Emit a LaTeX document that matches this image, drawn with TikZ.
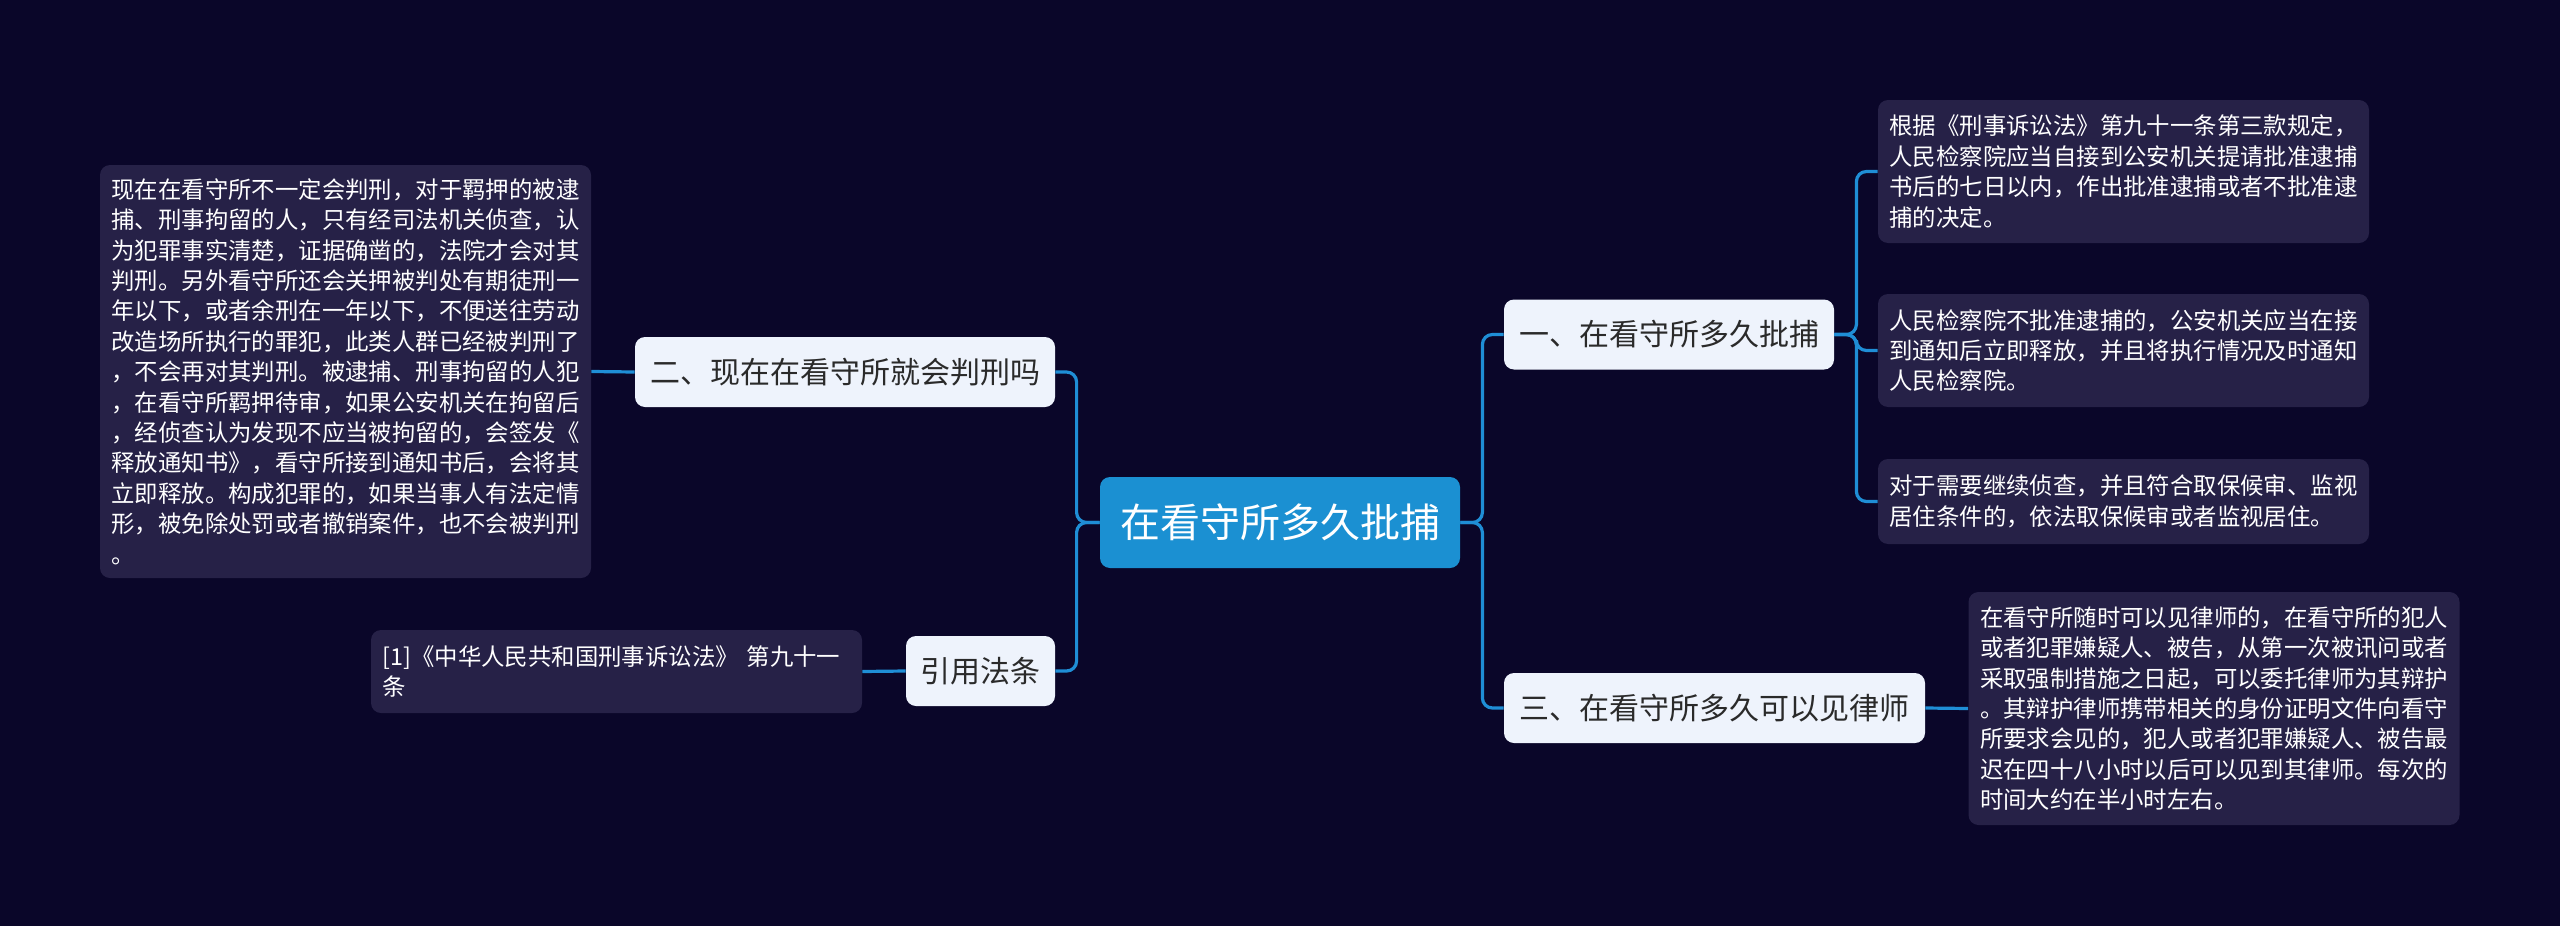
\documentclass[tikz,border=0pt]{standalone}
\usepackage{fontspec}
\newfontfamily\cjk{Noto Sans CJK SC}
\definecolor{bgnavy}{HTML}{0A0629}
\definecolor{rootblue}{HTML}{1B90D2}
\definecolor{linkblue}{HTML}{1F8ED6}
\definecolor{subfill}{HTML}{EEF3FC}
\definecolor{subtext}{HTML}{2A2A2A}
\definecolor{leaffill}{HTML}{262147}

\begin{document}
\begin{tikzpicture}[x=0.5pt,y={(0pt,-0.5pt)},font=\cjk,
  root/.style={fill=rootblue,rounded corners=5pt,text=white,inner sep=0pt,
    minimum width=180pt,minimum height=45.5pt,font=\cjk\fontsize{20}{24}\selectfont},
  sub/.style={fill=subfill,rounded corners=5pt,text=subtext,inner sep=0pt,
    minimum height=35pt,font=\cjk\fontsize{15}{18}\selectfont},
  leaf/.style={fill=leaffill,rounded corners=5pt,text=white,align=left,
    text width=234pt,inner xsep=5.75pt,inner ysep=3pt,font=\cjk\fontsize{11.7}{15.2}\selectfont},
  link/.style={draw=linkblue,line width=1.6pt,rounded corners=5pt}]
\fill[bgnavy] (0,0) rectangle (2560,926);
% ---- centre ----
\node[root] (root) at (1280,522.5) {在看守所多久批捕};
% ---- left side ----
\node[sub,minimum width=210pt] (judge) at (845,372) {二、现在在看守所就会判刑吗};
\node[sub,minimum width=74.5pt] (cite) at (980.5,671) {引用法条};
\node[leaf,minimum height=206.5pt] (judgeleaf) at (345.5,371.5) {现在在看守所不一定会判刑，对于羁押的被逮\\
捕、刑事拘留的人，只有经司法机关侦查，认\\
为犯罪事实清楚，证据确凿的，法院才会对其\\
判刑。另外看守所还会关押被判处有期徒刑一\\
年以下，或者余刑在一年以下，不便送往劳动\\
改造场所执行的罪犯，此类人群已经被判刑了\\
，不会再对其判刑。被逮捕、刑事拘留的人犯\\
，在看守所羁押待审，如果公安机关在拘留后\\
，经侦查认为发现不应当被拘留的，会签发《\\
释放通知书》，看守所接到通知书后，会将其\\
立即释放。构成犯罪的，如果当事人有法定情\\
形，被免除处罚或者撤销案件，也不会被判刑\\
。};
\node[leaf,minimum height=41.5pt] (citeleaf) at (616.5,671.5) {[1]《中华人民共和国刑事诉讼法》 第九十一\\
条};
% ---- right side ----
\node[sub,minimum width=165pt] (arrest) at (1669,334.5) {一、在看守所多久批捕};
\node[sub,minimum width=210.5pt] (lawyer) at (1714.5,708) {三、在看守所多久可以见律师};
\node[leaf,minimum height=71.5pt] (arrestA) at (2123.5,171.5) {根据《刑事诉讼法》第九十一条第三款规定，\\
人民检察院应当自接到公安机关提请批准逮捕\\
书后的七日以内，作出批准逮捕或者不批准逮\\
捕的决定。};
\node[leaf,minimum height=56.5pt] (arrestB) at (2123.5,350.5) {人民检察院不批准逮捕的，公安机关应当在接\\
到通知后立即释放，并且将执行情况及时通知\\
人民检察院。};
\node[leaf,minimum height=42.5pt] (arrestC) at (2123.5,501.5) {对于需要继续侦查，并且符合取保候审、监视\\
居住条件的，依法取保候审或者监视居住。};
\node[leaf,minimum height=116.5pt] (lawyerleaf) at (2214,708.5) {在看守所随时可以见律师的，在看守所的犯人\\
或者犯罪嫌疑人、被告，从第一次被讯问或者\\
采取强制措施之日起，可以委托律师为其辩护\\
。其辩护律师携带相关的身份证明文件向看守\\
所要求会见的，犯人或者犯罪嫌疑人、被告最\\
迟在四十八小时以后可以见到其律师。每次的\\
时间大约在半小时左右。};
% ---- connectors ----
\draw[link] (root.west) -- ++(-23,0) |- (judge.east);
\draw[link] (root.west) -- ++(-23,0) |- (cite.east);
\draw[link] (judge.west) -- (judgeleaf.east);
\draw[link] (cite.west) -- (citeleaf.east);
\draw[link] (root.east) -- ++(22,0) |- (arrest.west);
\draw[link] (root.east) -- ++(22,0) |- (lawyer.west);
\draw[link] (arrest.east) -- ++(22,0) |- (arrestA.west);
\draw[link] (arrest.east) -- ++(22,0) |- (arrestB.west);
\draw[link] (arrest.east) -- ++(22,0) |- (arrestC.west);
\draw[link] (lawyer.east) -- (lawyerleaf.west);
\end{tikzpicture}
\end{document}
